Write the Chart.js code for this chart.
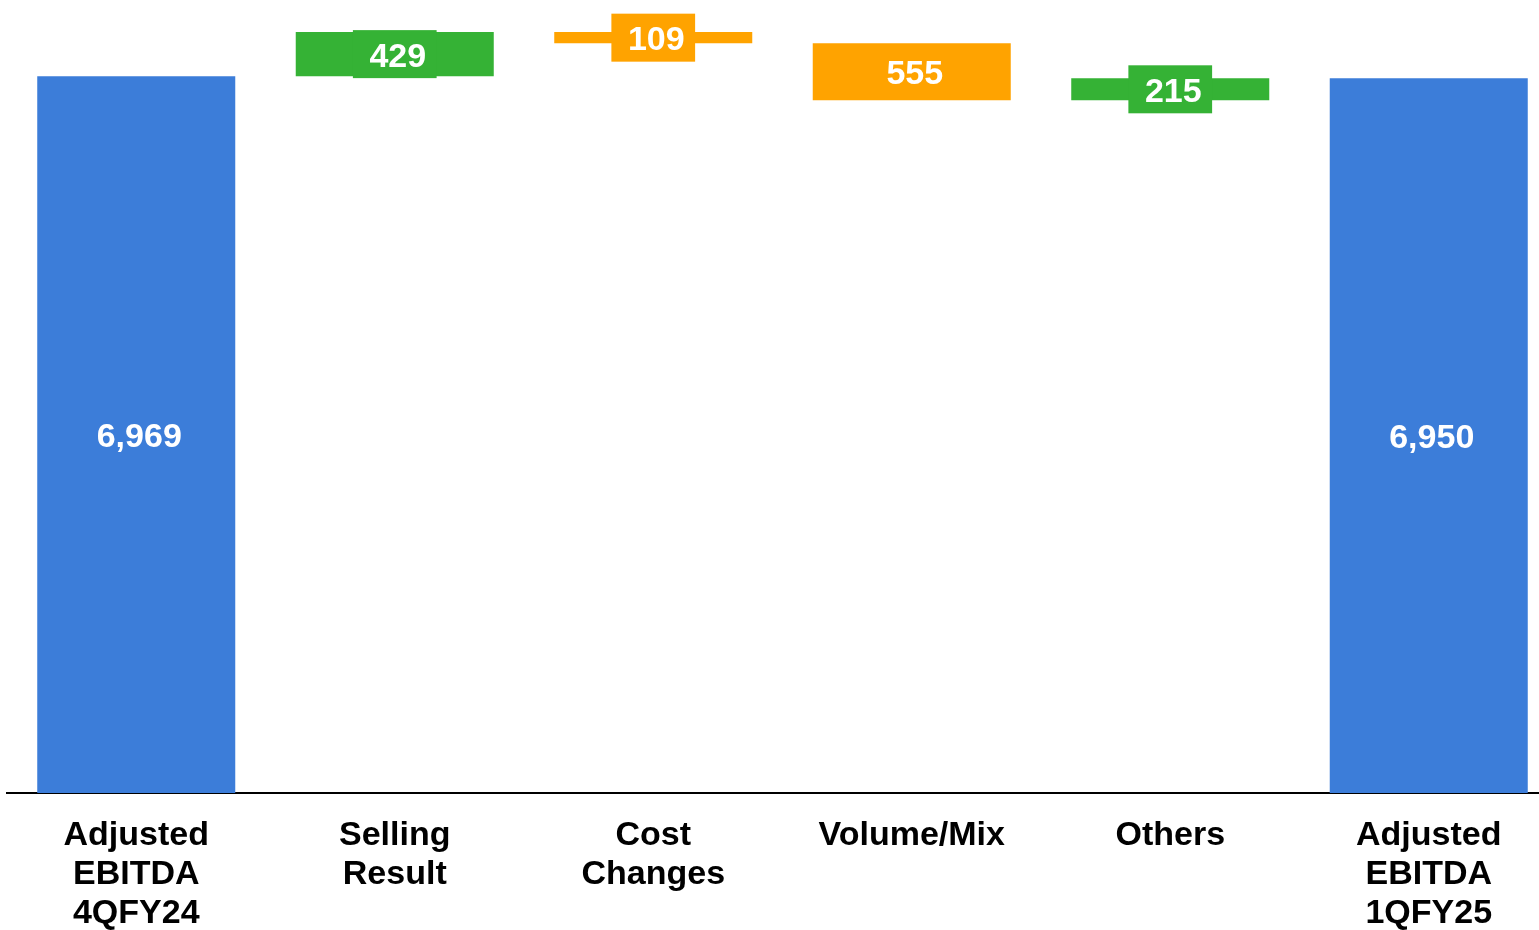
<!DOCTYPE html>
<html>
<head>
<meta charset="utf-8">
<script src="https://cdn.jsdelivr.net/npm/chart.js@4.4.1/dist/chart.umd.min.js"></script>
<style>
  html, body { margin: 0; padding: 0; overflow: hidden; background: #fff; }
  #wrap { width: 1558px; height: 930px; }
</style>
</head>
<body>
<div id="wrap"><canvas id="chart"></canvas></div>
<script>
const categories = [
  ["Adjusted", "EBITDA", "4QFY24"],
  ["Selling", "Result"],
  ["Cost", "Changes"],
  "Volume/Mix",
  "Others",
  ["Adjusted", "EBITDA", "1QFY25"]
];
const changes = [6969, 429, -109, -555, 215, 6950];
const isTotal = [true, false, false, false, false, true];
const valueLabels = ["6,969", "429", "109", "555", "215", "6,950"];

const blue = "rgb(60, 125, 217)";
const green = "rgb(53, 178, 53)";
const orange = "rgb(255, 163, 0)";
const fontFamily = "'Liberation Sans', Arial, sans-serif";

// floating bars for the waterfall
let running = 0;
const ranges = changes.map((v, i) => {
  if (isTotal[i]) { running = v; return [0, v]; }
  const r = [running, running + v];
  running += v;
  return r;
});
const colors = changes.map((v, i) => isTotal[i] ? blue : (v >= 0 ? green : orange));

const valueLabelPlugin = {
  id: "valueLabels",
  afterDatasetsDraw(chart) {
    const ctx = chart.ctx;
    const meta = chart.getDatasetMeta(0);
    ctx.save();
    ctx.font = "bold 34px " + fontFamily;
    ctx.textAlign = "center";
    ctx.textBaseline = "middle";
    meta.data.forEach((bar, i) => {
      const top = Math.min(bar.y, bar.base);
      const bottom = Math.max(bar.y, bar.base);
      const cy = (top + bottom) / 2;
      const text = valueLabels[i];
      if (bottom - top < 50) {
        const w = ctx.measureText(text).width + 27;
        ctx.fillStyle = colors[i];
        ctx.fillRect(bar.x - w / 2, cy - 24, w, 48);
      }
      ctx.fillStyle = "#fff";
      ctx.fillText(text, bar.x + 3, cy + 3);
    });
    ctx.restore();
  }
};

new Chart(document.getElementById("chart"), {
  type: "bar",
  data: {
    labels: categories,
    datasets: [{
      data: ranges,
      backgroundColor: colors,
      borderWidth: 0,
      barPercentage: 0.766,
      categoryPercentage: 1.0
    }]
  },
  options: {
    responsive: true,
    maintainAspectRatio: false,
    animation: false,
    layout: { padding: { left: 7, top: 1, right: 0, bottom: 0 } },
    plugins: { legend: { display: false }, tooltip: { enabled: false } },
    scales: {
      x: {
        grid: { display: false, drawTicks: false },
        border: { display: true, color: "#000", width: 2 },
        ticks: {
          color: "#000",
          padding: 23,
          maxRotation: 0,
          autoSkip: false,
          font: { family: fontFamily, size: 34, weight: "bold", lineHeight: 1.15 }
        },
        afterFit(scale) { scale.height = 137; }
      },
      y: { display: false, min: 0, max: 7700 }
    }
  },
  plugins: [valueLabelPlugin]
});
</script>
</body>
</html>
